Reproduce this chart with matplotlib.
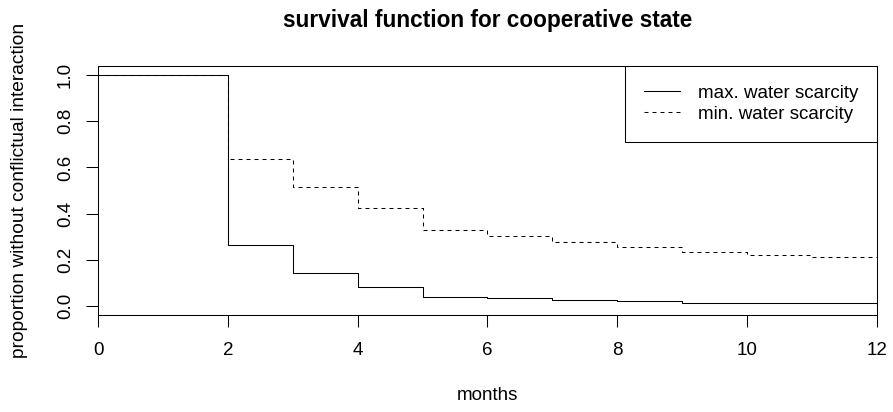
import numpy as np
import matplotlib.pyplot as plt

plt.rcParams["font.family"] = ["Liberation Sans", "DejaVu Sans"]

months = [0, 1, 2, 3, 4, 5, 6, 7, 8, 9, 10, 11, 12]
max_scarcity = [1.0, 1.0, 0.265, 0.143, 0.081, 0.039, 0.033, 0.023, 0.019, 0.014, 0.012, 0.010, 0.010]
min_scarcity = [1.0, 1.0, 0.635, 0.514, 0.424, 0.329, 0.304, 0.276, 0.257, 0.232, 0.219, 0.213, 0.213]
labels = ["max. water scarcity", "min. water scarcity"]

W, H = 893, 412
left, right, top, bottom = 98, 877, 66, 315
fs = 13.5

fig = plt.figure(figsize=(W / 100, H / 100), dpi=100)
ax = fig.add_axes([left / W, 1 - bottom / H, (right - left) / W, (bottom - top) / H])

ax.step(months, max_scarcity, where="post", color="black", lw=0.75, label=labels[0])
# dashes scale with lw, so 3.84 units ~ 4px on / 4px off like R's lty 2
ax.step(months, min_scarcity, where="post", color="black", lw=0.75,
        dashes=(3.84, 3.84), label=labels[1])

ax.set_xlim(0, 12)
ax.set_ylim(-0.04, 1.04)
ax.set_xticks(np.arange(0, 13, 2))
ax.set_yticks(np.arange(0, 1.01, 0.2))
ax.set_yticklabels([f"{v:.1f}" for v in np.arange(0, 1.01, 0.2)])
ax.tick_params(axis="both", direction="out", length=8.3, width=0.75, labelsize=fs, pad=11)
ax.tick_params(axis="y", labelrotation=90, pad=9)
for lab in ax.get_yticklabels():
    lab.set_va("center")
for s in ax.spines.values():
    s.set_linewidth(0.75)

ax.set_xlabel("months", fontsize=fs)
ax.xaxis.set_label_coords(0.5, (bottom - 396) / (bottom - top))
ax.xaxis.label.set_va("center")
ax.set_ylabel("proportion without conflictual interaction", fontsize=13.8)
ax.yaxis.set_label_coords((20 - left) / (right - left), 0.5)
ax.yaxis.label.set_va("center")
ax.set_title("survival function for cooperative state", fontsize=16.3,
             fontweight="bold", y=(bottom - 20) / (bottom - top), va="center", pad=0)

leg = ax.legend(loc="upper right", borderaxespad=0, fancybox=False, framealpha=1,
                edgecolor="black", fontsize=fs, handlelength=1.92, handletextpad=0.96,
                borderpad=1.0, labelspacing=0.21)
leg.get_frame().set_linewidth(0.75)

fig.savefig("out.png", dpi=100)
